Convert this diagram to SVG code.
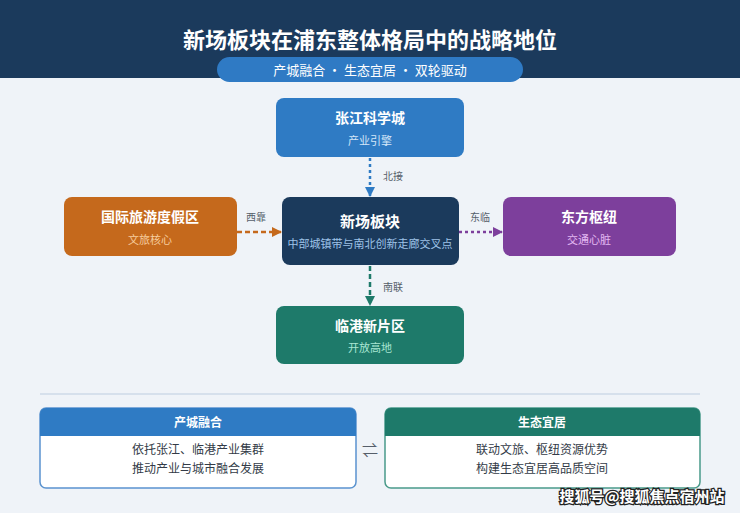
<svg xmlns="http://www.w3.org/2000/svg" width="740" height="513" viewBox="0 0 740 513">
<style>
text{font-family:"Noto Sans CJK SC","Noto Sans",sans-serif;text-anchor:middle}
.t{font-size:14px;font-weight:700;fill:#fff}
.s{font-size:11px}
.lbl{font-size:10px;fill:#555e6a;text-anchor:start}
.bt{font-size:12px;fill:#333b47}
.bh{font-size:12px;font-weight:700;fill:#fff}
</style>
<defs>
<marker id="mB" markerWidth="10" markerHeight="10" refX="9" refY="5" orient="auto" markerUnits="userSpaceOnUse"><path d="M0,0L10,5L0,10Z" fill="#2f7bc4"/></marker>
<marker id="mO" markerWidth="10" markerHeight="10" refX="9" refY="5" orient="auto" markerUnits="userSpaceOnUse"><path d="M0,0L10,5L0,10Z" fill="#c5691c"/></marker>
<marker id="mP" markerWidth="10" markerHeight="10" refX="9" refY="5" orient="auto" markerUnits="userSpaceOnUse"><path d="M0,0L10,5L0,10Z" fill="#7d3f9c"/></marker>
<marker id="mG" markerWidth="10" markerHeight="10" refX="9" refY="5" orient="auto" markerUnits="userSpaceOnUse"><path d="M0,0L10,5L0,10Z" fill="#1e7a6a"/></marker>
</defs>
<rect width="740" height="513" fill="#eff3f8"/>
<rect width="740" height="78" fill="#1b3a5c"/>
<text x="370" y="48" style="font-size:22px;font-weight:700;fill:#fff">新场板块在浦东整体格局中的战略地位</text>
<rect x="217" y="57" width="306" height="25" rx="12.5" fill="#2f7ac4"/>
<text x="370" y="74.5" style="font-size:13px;fill:#fff">产城融合 · 生态宜居 · 双轮驱动</text>

<g id="connectors">
<line x1="370" y1="158" x2="370" y2="196" stroke="#2f7bc4" stroke-width="2.5" stroke-dasharray="3,3" marker-end="url(#mB)"/>
<text class="lbl" x="383" y="180">北接</text>
<line x1="237" y1="232" x2="281" y2="232" stroke="#c5691c" stroke-width="2.5" stroke-dasharray="5,3" marker-end="url(#mO)"/>
<text class="lbl" x="246" y="221">西靠</text>
<line x1="459" y1="232" x2="502" y2="232" stroke="#7d3f9c" stroke-width="2.5" stroke-dasharray="3,3" marker-end="url(#mP)"/>
<text class="lbl" x="470" y="221">东临</text>
<line x1="370" y1="266" x2="370" y2="305" stroke="#1e7a6a" stroke-width="2.5" stroke-dasharray="5,3" marker-end="url(#mG)"/>
<text class="lbl" x="383" y="291">南联</text>
</g>

<g id="zhangjiang">
<rect x="276" y="98" width="188" height="59" rx="8" fill="#2f7bc4"/>
<text class="t" x="370" y="123">张江科学城</text>
<text class="s" x="370" y="145" fill="#d3e6f8">产业引擎</text>
</g>
<g id="xinchang">
<rect x="282" y="197" width="177" height="68" rx="8" fill="#1b3a5c"/>
<text class="t" x="370" y="227" style="font-size:15px">新场板块</text>
<text class="s" x="370" y="248" fill="#9fc3e8">中部城镇带与南北创新走廊交叉点</text>
</g>
<g id="resort">
<rect x="64" y="197" width="173" height="59" rx="8" fill="#c5691c"/>
<text class="t" x="150" y="222">国际旅游度假区</text>
<text class="s" x="150" y="244" fill="#f6cc9c">文旅核心</text>
</g>
<g id="hub">
<rect x="503" y="197" width="173" height="59" rx="8" fill="#7d3f9c"/>
<text class="t" x="589" y="222">东方枢纽</text>
<text class="s" x="589" y="244" fill="#e3b9f2">交通心脏</text>
</g>
<g id="lingang">
<rect x="276" y="306" width="188" height="58" rx="8" fill="#1e7a6a"/>
<text class="t" x="370" y="331">临港新片区</text>
<text class="s" x="370" y="352" fill="#a9e6d3">开放高地</text>
</g>

<line x1="40" y1="394" x2="700" y2="394" stroke="#d6e0ec" stroke-width="2"/>

<g id="box-left">
<rect x="40" y="408" width="316" height="80" rx="6" fill="#fff" stroke="#5b93cf" stroke-width="1.5"/>
<path d="M46,408H350A6,6 0 0 1 356,414V436H40V414A6,6 0 0 1 46,408Z" fill="#2f7bc4"/>
<text class="bh" x="198" y="427">产城融合</text>
<text class="bt" x="198" y="454">依托张江、临港产业集群</text>
<text class="bt" x="198" y="473">推动产业与城市融合发展</text>
</g>
<text x="370" y="456" style="font-size:16px;fill:#555e6a">⇌</text>
<g id="box-right">
<rect x="385" y="408" width="315" height="80" rx="6" fill="#fff" stroke="#4a9a8a" stroke-width="1.5"/>
<path d="M391,408H694A6,6 0 0 1 700,414V436H385V414A6,6 0 0 1 391,408Z" fill="#1e7a6a"/>
<text class="bh" x="542" y="427">生态宜居</text>
<text class="bt" x="542" y="454">联动文旅、枢纽资源优势</text>
<text class="bt" x="542" y="473">构建生态宜居高品质空间</text>
</g>
<text x="642" y="502" style="font-size:15px;font-weight:700;fill:#fff;stroke:#222;stroke-width:2.5;paint-order:stroke">搜狐号@搜狐焦点宿州站</text>
</svg>
